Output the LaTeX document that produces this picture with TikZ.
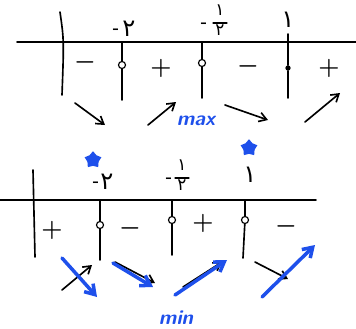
\documentclass[tikz,border=0pt]{standalone}
\usepackage{fontspec}
\newfontfamily\arabicfont[Script=Arabic]{DejaVu Sans}
\usetikzlibrary{arrows.meta,shapes.geometric}
\definecolor{penblue}{RGB}{30,80,235}

\begin{document}
\begin{tikzpicture}[x=0.03cm,y=-0.03cm,
  hand/.style={line width=1.4pt,line cap=round},
  tip/.style={hand,-{Straight Barb[length=2.2mm,width=2.8mm]}},
  bluetip/.style={draw=penblue,line width=3pt,line cap=round,-{Straight Barb[length=2.8mm,width=3.6mm]}},
  sgn/.style={font=\huge\boldmath,inner sep=0pt},
  lbl/.style={font=\arabicfont\huge,inner sep=0pt},
  half/.style={font=\arabicfont\Large,inner sep=0pt,text height=1.1ex,text depth=0pt},
  minuslbl/.style={font=\Large\bfseries,inner sep=0pt},
  hole/.style={circle,draw,line width=1pt,fill=white,inner sep=0pt,minimum size=6pt},
  dot/.style={circle,fill=black,inner sep=0pt,minimum size=4.5pt},
  word/.style={font=\sffamily\bfseries\itshape\LARGE,text=penblue,inner sep=0pt},
  starblob/.style={star,star points=5,fill=penblue,inner sep=0pt,minimum size=15pt}]
\useasboundingbox (0,0) rectangle (356,329);

% first chart
\coordinate (a0) at (17,42);
\coordinate (a1) at (356,42);
\draw[hand] (a0)--(a1);
\coordinate (v0) at (60,12);
\coordinate (v1) at (62,95);
\draw[hand] (v0) .. controls (64,40) .. (v1);
\node[hole] (h1) at (122,65) {};
\node[hole] (h2) at (202,63) {};
\node[dot] (h3) at (288,68) {};
\coordinate (t1) at (122,42); \coordinate (b1) at (122,100);
\coordinate (t2) at (202,42); \coordinate (b2) at (202,98);
\coordinate (t3) at (288,34); \coordinate (b3) at (288,98);
\draw[hand] (t1)--(h1) (h1)--(b1);
\draw[hand] (t2)--(h2) (h2)--(b2);
\draw[hand] (t3)--(h3) (h3)--(b3);
\node[minuslbl] (l1m) at (116,31) {-};
\node[lbl] (l1) at (129,29) {۲};
\node[minuslbl] (l2m) at (204,25) {-};
\node[half] (l2n) at (220,13) {۱};
\node[half] (l2d) at (220,33) {۲};
\coordinate (l2a) at (213,23); \coordinate (l2b) at (227,23);
\draw[hand,line width=1pt] (l2a)--(l2b);
\node[lbl] (l3) at (288,20) {۱};
\node[sgn] (s1) at (85,62) {$-$};
\node[sgn] (s2) at (161,68) {$+$};
\node[sgn] (s3) at (248,66) {$-$};
\node[sgn] (s4) at (329,68) {$+$};
\coordinate (p1) at (75,103); \coordinate (q1) at (105,125);
\coordinate (p2) at (148,125); \coordinate (q2) at (176,102);
\coordinate (p3) at (225,105); \coordinate (q3) at (268,120);
\coordinate (p4) at (305,122); \coordinate (q4) at (340,93);
\draw[tip] (p1)--(q1);
\draw[tip] (p2)--(q2);
\draw[tip] (p3)--(q3);
\draw[tip] (p4)--(q4);
\node[word] (mx) at (196,121) {max};

% second chart
\coordinate (c0) at (0,200);
\coordinate (c1) at (316,200);
\draw[hand] (c0)--(c1);
\coordinate (w0) at (33,170);
\coordinate (w1) at (35,257);
\draw[hand] (w0)--(w1);
\node[hole] (k1) at (100,225) {};
\node[hole] (k2) at (172,220) {};
\node[hole] (k3) at (245,220) {};
\coordinate (u1) at (100,200); \coordinate (d1) at (100,260);
\coordinate (u2) at (172,200); \coordinate (d2) at (172,255);
\coordinate (u3) at (245,200); \coordinate (d3) at (243,258);
\draw[hand] (u1)--(k1) (k1)--(d1);
\draw[hand] (u2)--(k2) (k2)--(d2);
\draw[hand] (u3)--(k3) (k3)--(d3);
\node[minuslbl] (m1m) at (96,184) {-};
\node[lbl] (m1) at (107,182) {۲};
\node[minuslbl] (m2m) at (169,180) {-};
\node[half] (m2n) at (182,168) {۱};
\node[half] (m2d) at (182,188) {۲};
\coordinate (m2a) at (175,178); \coordinate (m2b) at (189,178);
\draw[hand,line width=1pt] (m2a)--(m2b);
\node[lbl] (m3) at (250,175) {۱};
\node[starblob] (st1) at (93,160) {};
\node[starblob] (st2) at (249,148) {};
\node[sgn] (r1) at (52,230) {$+$};
\node[sgn] (r2) at (130,228) {$-$};
\node[sgn] (r3) at (203,223) {$+$};
\node[sgn] (r4) at (286,226) {$-$};
\coordinate (e1) at (62,290); \coordinate (f1) at (92,265);
\coordinate (e2) at (115,262); \coordinate (f2) at (155,283);
\coordinate (e3) at (183,287); \coordinate (f3) at (222,262);
\coordinate (e4) at (255,262); \coordinate (f4) at (288,279);
\draw[tip] (e1)--(f1);
\draw[tip] (e2)--(f2);
\draw[tip] (e3)--(f3);
\draw[tip] (e4)--(f4);
\coordinate (g1) at (62,258); \coordinate (n1) at (97,297);
\coordinate (g2) at (113,263); \coordinate (n2) at (153,287);
\coordinate (g3) at (175,295); \coordinate (n3) at (227,260);
\coordinate (g4) at (262,297); \coordinate (n4) at (315,245);
\draw[bluetip] (g1)--(n1);
\draw[bluetip] (g2)--(n2);
\draw[bluetip] (g3)--(n3);
\draw[bluetip] (g4)--(n4);
\node[word] (mn) at (176,318) {min};
\end{tikzpicture}
\end{document}
